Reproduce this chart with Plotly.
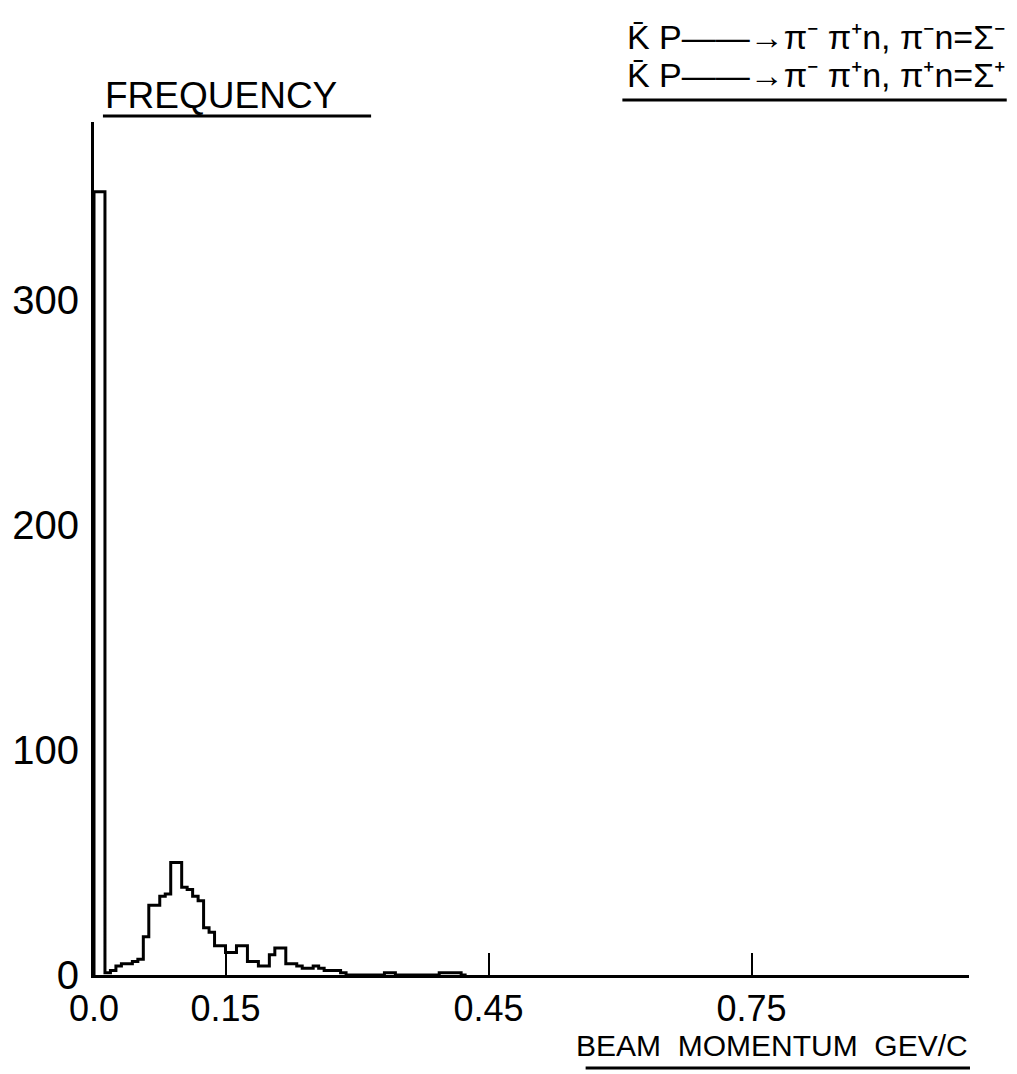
import plotly.graph_objects as go

# Histogram of beam momentum, bins of 1/160 GeV/c starting at 0
bin_width = 0.00625
counts = [
    348, 348, 1, 2, 4, 5, 5, 6, 7, 17,
    31, 31, 35, 36, 50, 50, 39, 38, 35, 33,
    21, 19, 13, 13, 10, 10, 13, 13, 6, 6,
    4, 4, 9, 12, 12, 5, 5, 4, 3, 3,
    4, 3, 2, 2, 2, 1, 0, 0, 0, 0,
    0, 0, 0, 1, 1, 0, 0, 0, 0, 0,
    0, 0, 0, 1, 1, 1, 1, 0,
]

x_tick_vals = [0.0, 0.15, 0.45, 0.75]
x_tick_text = ["0.0", "0.15", "0.45", "0.75"]
y_tick_vals = [0, 100, 200, 300]
y_tick_text = ["0", "100", "200", "300"]

x_range = [0, 0.998]
y_range = [0, 379]

# step outline of the histogram
edges = [i * bin_width for i in range(len(counts) + 1)]
xs = [edges[0]] + edges[:-1] + [edges[-1]]
ys = [0] + counts + [0]

INK = "#000000"
FONT = "Liberation Sans"
NB = "\u00a0"

fig = go.Figure()
fig.add_trace(go.Scatter(
    x=xs, y=ys, mode="lines",
    line=dict(color=INK, width=3, shape="hv"),
    hoverinfo="skip", showlegend=False,
))

W, H = 1017, 1074
L, T = 88, 122
PW, PH = 881, 853
R = W - L - PW
B = H - T - PH


def px(x):
    return (x - L) / PW


def py(y):
    return (T + PH - y) / PH


fig.update_layout(
    width=W, height=H,
    margin=dict(l=L, r=R, t=T, b=B, pad=0),
    paper_bgcolor="white", plot_bgcolor="white",
    font=dict(family=FONT, color=INK),
    xaxis=dict(
        range=x_range, showgrid=False, zeroline=False,
        showline=True, linecolor=INK, linewidth=3,
        tickmode="array", tickvals=x_tick_vals, ticktext=x_tick_text,
        ticks="inside", ticklen=22, tickwidth=2, tickcolor=INK,
        tickfont=dict(size=36, family=FONT, color=INK),
    ),
    yaxis=dict(
        range=y_range, showgrid=False, zeroline=False,
        showline=True, linecolor=INK, linewidth=3,
        tickmode="array", tickvals=y_tick_vals, ticktext=y_tick_text,
        ticks="", ticklabelstandoff=4,
        tickfont=dict(size=40, family=FONT, color=INK),
    ),
    annotations=[
        dict(text="FREQUENCY", x=px(97), y=py(96), xref="paper", yref="paper",
             xanchor="left", yanchor="middle", showarrow=False,
             font=dict(size=37, family=FONT, color=INK)),
        dict(text="K\u0304 P\u2014\u2014\u2192\u03c0\u207b \u03c0\u207an, \u03c0\u207bn=\u03a3\u207b",
             x=px(1007), y=py(37), xref="paper", yref="paper",
             xanchor="right", yanchor="middle", showarrow=False,
             font=dict(size=34, family=FONT, color=INK)),
        dict(text="K\u0304 P\u2014\u2014\u2192\u03c0\u207b \u03c0\u207an, \u03c0\u207an=\u03a3\u207a",
             x=px(1007), y=py(75), xref="paper", yref="paper",
             xanchor="right", yanchor="middle", showarrow=False,
             font=dict(size=34, family=FONT, color=INK)),
        dict(text=f"BEAM{NB} MOMENTUM{NB} GEV/C",
             x=px(970), y=py(1045), xref="paper", yref="paper",
             xanchor="right", yanchor="middle", showarrow=False,
             font=dict(size=30, family=FONT, color=INK)),
    ],
    shapes=[
        dict(type="line", xref="paper", yref="paper",
             x0=px(97), x1=px(367), y0=py(116), y1=py(116),
             line=dict(color=INK, width=3)),
        dict(type="line", xref="paper", yref="paper",
             x0=px(620), x1=px(1007), y0=py(100), y1=py(100),
             line=dict(color=INK, width=3)),
        dict(type="line", xref="paper", yref="paper",
             x0=px(583), x1=px(970), y0=py(1068), y1=py(1068),
             line=dict(color=INK, width=3)),
    ],
)

fig.write_html("out.html")
